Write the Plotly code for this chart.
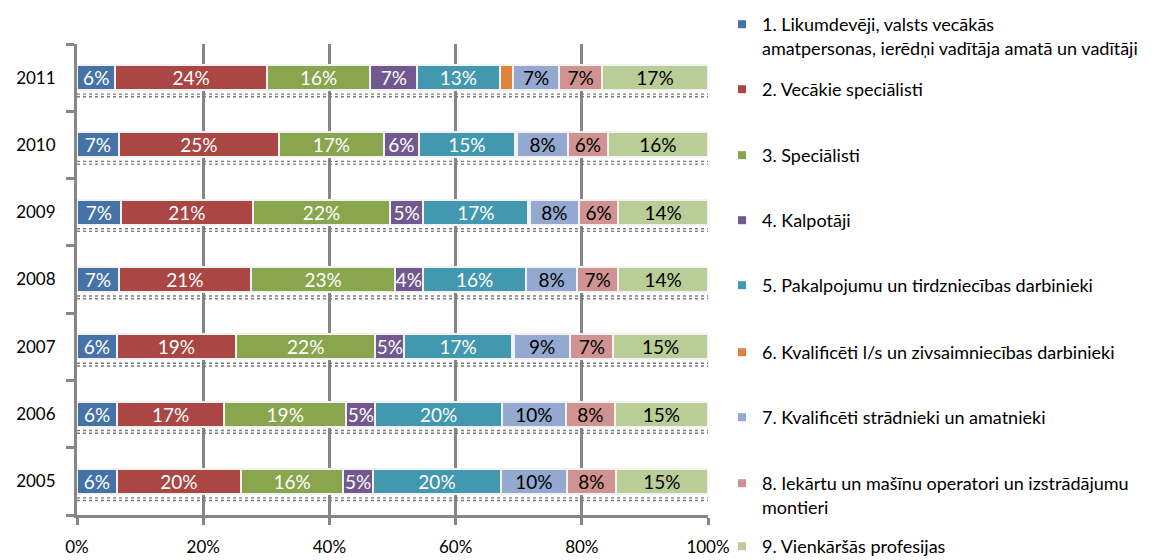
import plotly.graph_objects as go

# Employment structure by occupation group, shares of total (%)
years = ["2005", "2006", "2007", "2008", "2009", "2010", "2011"]

g1 = [6.3, 6.4, 6.3, 6.6, 6.9, 6.6, 6.1]
g2 = [19.7, 16.9, 18.9, 21.0, 21.0, 25.4, 24.0]
g3 = [16.2, 19.4, 22.1, 22.8, 21.7, 16.6, 16.4]
g4 = [4.7, 4.6, 4.6, 4.4, 5.3, 5.6, 7.4]
g5 = [20.3, 20.0, 17.0, 16.4, 16.6, 15.2, 13.1]
g6 = [0.0, 0.0, 0.3, 0.0, 0.3, 0.4, 2.1]
g7 = [10.4, 10.2, 9.0, 8.0, 7.7, 8.0, 7.3]
g8 = [7.8, 7.7, 6.8, 6.6, 6.3, 6.3, 6.8]
g9 = [14.6, 14.8, 15.0, 14.2, 14.2, 15.9, 16.8]

groups = [
    "1. Likumdevēji, valsts vecākās<br>amatpersonas, ierēdņi vadītāja amatā un vadītāji",
    "2. Vecākie speciālisti",
    "3. Speciālisti",
    "4. Kalpotāji",
    "5. Pakalpojumu un tirdzniecības darbinieki",
    "6. Kvalificēti l/s un zivsaimniecības darbinieki",
    "7. Kvalificēti strādnieki un amatnieki",
    "8. Iekārtu un mašīnu operatori un izstrādājumu<br>montieri",
    "9. Vienkāršās profesijas",
]
series = [g1, g2, g3, g4, g5, g6, g7, g8, g9]

x_ticks = [0, 20, 40, 60, 80, 100]
x_tick_text = ["0%", "20%", "40%", "60%", "80%", "100%"]

colors = ["#4572A7", "#AA4643", "#89A54E", "#71588F", "#4198AF",
          "#DB843D", "#93A9CF", "#D19392", "#B9CD96"]
label_colors = ["white", "white", "white", "white", "white",
                "white", "black", "black", "black"]

FONT = "Lato, 'Open Sans', sans-serif"
GRID = "#868686"

W, H = 1161, 560
L, R, T, B = 77, 453, 44, 45
plot_w = W - L - R
plot_h = H - T - B

# legend marker centres (px from top of figure)
legend_y_px = [24, 89, 155, 220, 285, 352, 417, 483, 546]
legend_left_px = 722

fig = go.Figure()

for i, (name, vals) in enumerate(zip(groups, series)):
    fig.add_trace(go.Bar(
        y=years, x=vals, orientation="h", name=name,
        marker=dict(color=colors[i], line=dict(color="#F2F2F2", width=2)),
        texttemplate="%{x:.0f}%",
        textposition="none" if i == 5 else "inside",
        insidetextanchor="middle",
        textangle=0,
        constraintext="none",
        textfont=dict(family=FONT, size=19, color=label_colors[i]),
        showlegend=False,
        hoverinfo="x+name",
    ))

# legend entries with small square keys, one legend box per entry
for i, name in enumerate(groups):
    lg = "legend" if i == 0 else f"legend{i + 1}"
    fig.add_trace(go.Scatter(
        x=[None], y=[None], mode="markers", name=name,
        marker=dict(symbol="square", size=8, color=colors[i]),
        legend=lg, showlegend=True,
    ))

legend_layout = {}
for i in range(len(groups)):
    key = "legend" if i == 0 else f"legend{i + 1}"
    legend_layout[key] = dict(
        x=(legend_left_px - L) / plot_w,
        y=(H - B - (legend_y_px[i] - 18)) / plot_h,
        xanchor="left", yanchor="top",
        bgcolor="rgba(0,0,0,0)", borderwidth=0,
        font=dict(family=FONT, size=18, color="#000000"),
        valign="top", tracegroupgap=0,
    )

# dotted shadow band under each bar
shapes = []
for k in range(len(years)):
    for off in (0.245, 0.285):
        shapes.append(dict(
            type="line", xref="x", yref="y",
            x0=0, x1=100, y0=k - off, y1=k - off,
            line=dict(color="#7a7a7a", width=1.4, dash="dot"),
            layer="above",
        ))

fig.update_layout(
    width=W, height=H,
    margin=dict(l=L, r=R, t=T, b=B, autoexpand=False),
    barmode="stack",
    bargap=0.63,
    plot_bgcolor="white", paper_bgcolor="white",
    font=dict(family=FONT, size=18, color="#000000"),
    shapes=shapes,
    **legend_layout,
)

fig.update_xaxes(
    range=[0, 100], tickvals=x_ticks, ticktext=x_tick_text,
    showgrid=True, gridcolor=GRID, gridwidth=3,
    showline=True, linecolor=GRID, linewidth=3,
    ticks="outside", ticklen=7, tickwidth=3, tickcolor=GRID,
    ticklabelstandoff=8,
    zeroline=False,
    tickfont=dict(family=FONT, size=17, color="#000000"),
)
fig.update_yaxes(
    type="category", categoryorder="array", categoryarray=years,
    showgrid=False,
    showline=True, linecolor=GRID, linewidth=3,
    ticks="outside", tickson="boundaries", ticklen=8, tickwidth=3, tickcolor=GRID,
    ticklabelstandoff=15,
    tickfont=dict(family=FONT, size=17, color="#000000"),
)

fig.write_html("out.html")
